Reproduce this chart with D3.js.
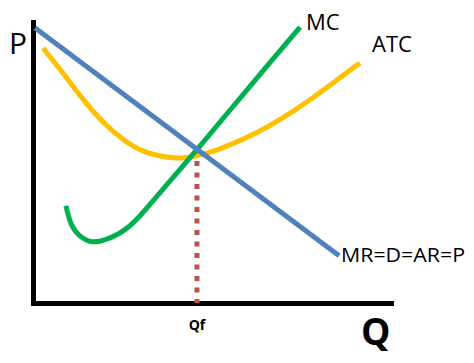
<!DOCTYPE html>
<html lang="en">
<head>
    <meta charset="UTF-8">
    <title>Perfect competition firm</title>
    <script src="https://d3js.org/d3.v7.min.js"></script>
    <style>
        body { margin: 0; background: #fff; }
        text { font-family: "Open Sans", sans-serif; fill: #000; }
    </style>
</head>
<body>
<div id="chart"></div>
<script>
    // cost curves, Q on x (0..10), P on y (0..10)
    const demandQ = [0.06, 8.55];
    const demandP = [9.79, 1.68];

    const mcQ = [0.92, 1.09, 1.31, 1.65, 2.15, 2.71, 3.55, 4.58, 6.06, 7.46];
    const mcP = [3.46, 2.75, 2.39, 2.18, 2.32, 2.75, 3.93, 5.46, 7.71, 9.82];

    const atcQ = [0.28, 0.84, 1.40, 1.96, 2.51, 3.07, 3.63, 4.19, 4.94, 5.50, 6.26, 6.98, 7.74, 8.49, 9.13];
    const atcP = [9.07, 8.19, 7.22, 6.41, 5.80, 5.37, 5.20, 5.12, 5.34, 5.62, 6.05, 6.58, 7.22, 7.94, 8.54];

    const qf = 4.58;
    const pf = 5.46;

    const width = 474, height = 363;

    const svg = d3.select("#chart").append("svg")
        .attr("width", width)
        .attr("height", height);

    const x = d3.scaleLinear().domain([0, 10]).range([33, 391]);
    const y = d3.scaleLinear().domain([0, 10]).range([303, 22]);

    const zip = (a, b) => a.map((v, i) => [v, b[i]]);

    const line = d3.line()
        .x(d => x(d[0]))
        .y(d => y(d[1]));
    const smooth = d3.line()
        .x(d => x(d[0]))
        .y(d => y(d[1]))
        .curve(d3.curveBasis);

    // axes (just the lines)
    svg.append("g")
        .attr("transform", `translate(0,${y(0)})`)
        .call(d3.axisBottom(x).ticks(0).tickSizeOuter(0));
    svg.append("g")
        .attr("transform", `translate(${x(0)},0)`)
        .call(d3.axisLeft(y).ticks(0).tickSizeOuter(0));
    svg.selectAll(".domain")
        .attr("stroke", "#000")
        .attr("stroke-width", 5)
        .attr("stroke-linecap", "square");

    // dotted line down to Qf
    svg.append("line")
        .attr("x1", x(qf)).attr("x2", x(qf))
        .attr("y1", y(pf)).attr("y2", y(0))
        .attr("stroke", "#c0504d")
        .attr("stroke-width", 5)
        .attr("stroke-dasharray", "5,6.5");

    svg.append("path")
        .attr("d", smooth(zip(atcQ, atcP)))
        .attr("fill", "none")
        .attr("stroke", "#ffc000")
        .attr("stroke-width", 5);

    svg.append("path")
        .attr("d", d3.line().x(d => x(d[0])).y(d => y(d[1])).curve(d3.curveCatmullRom)(zip(mcQ, mcP)))
        .attr("fill", "none")
        .attr("stroke", "#00b050")
        .attr("stroke-width", 5);

    svg.append("path")
        .attr("d", line(zip(demandQ, demandP)))
        .attr("fill", "none")
        .attr("stroke", "#4f81bd")
        .attr("stroke-width", 5);

    // labels
    svg.append("text").attr("x", 9).attr("y", 54)
        .style("font-size", "30px").text("P");
    svg.append("text").attr("x", 306).attr("y", 30)
        .style("font-size", "22px").text("MC");
    svg.append("text").attr("x", 372).attr("y", 52)
        .style("font-size", "22px").text("ATC");
    svg.append("text").attr("x", 341).attr("y", 262)
        .style("font-size", "20px")
        .attr("textLength", 124).attr("lengthAdjust", "spacingAndGlyphs")
        .text("MR=D=AR=P");
    svg.append("text").attr("x", x(qf)).attr("y", 330)
        .attr("text-anchor", "middle")
        .style("font-size", "14px").style("font-weight", "bold")
        .text("Qf");
    svg.append("text").attr("x", 361).attr("y", 345)
        .style("font-size", "37px").style("font-weight", "bold")
        .text("Q");
</script>
</body>
</html>
